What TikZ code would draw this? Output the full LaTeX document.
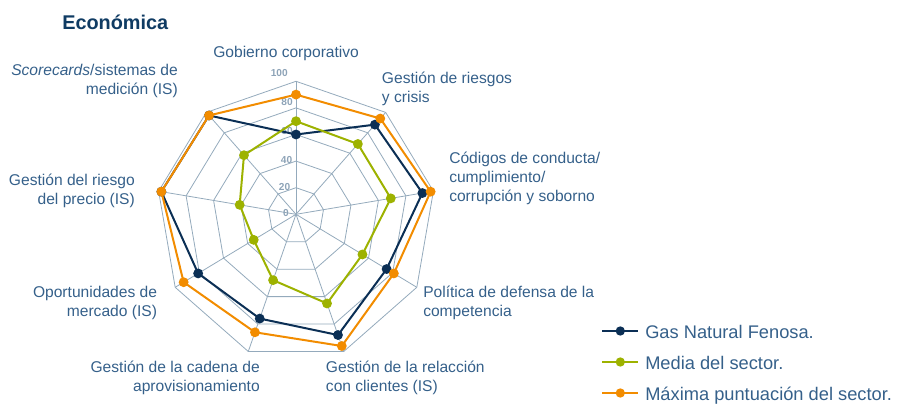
\documentclass[tikz,border=0pt]{standalone}
\usepackage{fontspec}
\setmainfont{Liberation Sans}
\usetikzlibrary{calc}
\definecolor{gnf}{HTML}{0B2F55}
\definecolor{media}{HTML}{9DB200}
\definecolor{maxima}{HTML}{F28C00}
\definecolor{rejilla}{HTML}{94AABC}
\definecolor{texto}{HTML}{35608A}
\definecolor{titulo}{HTML}{0F3B63}
\definecolor{cifras}{HTML}{8DA3B7}
\tikzstyle{eje}=[font=\fontsize{11.7}{14.3}\selectfont, text=texto, inner sep=0pt]
\tikzstyle{marca}=[font=\fontsize{7.6}{9}\selectfont\bfseries, text=cifras, inner sep=0pt, anchor=base east]
\tikzstyle{malla}=[draw=rejilla, line width=0.6pt]
\tikzstyle{serie}=[line width=1.5pt, line join=round]
\tikzstyle{punto}=[radius=3.7pt]
\tikzstyle{leyenda}=[font=\fontsize{13.7}{16}\selectfont, text=texto, inner sep=0pt, anchor=base west]

\begin{document}
\begin{tikzpicture}[x=0.75pt,y=0.75pt,
  declare function={rx(\a,\v)=296+1.395*\v*cos(\a);
                    ry(\a,\v)=189.7+(sin(\a)>0?1.33:1.46)*\v*sin(\a);}]
      \useasboundingbox (0,0) rectangle (907,404);
      \node [font=\fontsize{14.9}{17}\selectfont\bfseries, text=titulo, inner sep=0pt, anchor=base west] (titulo) at (62,374) {Económica};
      % rejilla
      \coordinate (centro) at (296,189.7);
      \foreach \i in {1,...,9}
        \coordinate (e\i) at ({rx(130-40*\i,100)},{ry(130-40*\i,100)});
      \foreach \r in {20,40,...,100}
        \draw [malla] ({rx(90,\r)},{ry(90,\r)}) \foreach \i in {2,...,9} { -- ({rx(130-40*\i,\r)},{ry(130-40*\i,\r)}) } -- cycle;
      \foreach \i in {1,...,9}
        \draw [malla] (centro) -- (e\i);
      \node [marca] (t100) at (288,327.3) {100};
      \node [marca] (t80) at (293,298.3) {80};
      \node [marca] (t60) at (293,269.5) {60};
      \node [marca] (t40) at (292.5,240.7) {40};
      \node [marca] (t20) at (290.5,214) {20};
      \node [marca] (t0) at (289,187.3) {0};
      % series
      \foreach \v [count=\i] in {60,88,92,75,88,76,81,98,97}
        \coordinate (gnf\i) at ({rx(130-40*\i,\v)},{ry(130-40*\i,\v)});
      \foreach \v [count=\i] in {70,69,69,55,65,48,35,41,58}
        \coordinate (med\i) at ({rx(130-40*\i,\v)},{ry(130-40*\i,\v)});
      \foreach \v [count=\i] in {90,94,98,81,96,86,93,98,97}
        \coordinate (max\i) at ({rx(130-40*\i,\v)},{ry(130-40*\i,\v)});
      \foreach \s/\c in {gnf/gnf, med/media, max/maxima} {
        \draw [serie, \c] (\s1) \foreach \i in {2,...,9} { -- (\s\i) } -- cycle;
        \foreach \i in {1,...,9}
          \fill [\c] (\s\i) circle [punto];
      }
      % etiquetas de los ejes
      \node [eje, anchor=base west] (gob) at (213,346) {Gobierno corporativo};
      \node [eje, anchor=base west, align=left] (rie) at (381.7,301.3) {Gestión de riesgos\\y crisis};
      \node [eje, anchor=base west, align=left] (cod) at (449,202.3) {Códigos de conducta/\\cumplimiento/\\corrupción y soborno};
      \node [eje, anchor=base west, align=left] (pol) at (423,87.3) {Política de defensa de la\\competencia};
      \node [eje, anchor=base west, align=left] (cli) at (325.7,12.3) {Gestión de la relacción\\con clientes (IS)};
      \node [eje, anchor=base east, align=right] (cad) at (260,12.3) {Gestión de la cadena de\\aprovisionamiento};
      \node [eje, anchor=base east, align=right] (opo) at (157.3,87.3) {Oportunidades de\\mercado (IS)};
      \node [eje, anchor=base east, align=right] (pre) at (135,199.7) {Gestión del riesgo\\del precio (IS)};
      \node [eje, anchor=base east, align=right] (sco) at (178,309.7) {\textit{Scorecards}/sistemas de\\medición (IS)};
      % leyenda
      \foreach \y/\c/\t [count=\i] in {73/gnf/Gas Natural Fenosa., 42/media/Media del sector., 11/maxima/Máxima puntuación del sector.} {
        \coordinate (la\i) at (602.3,\y);
        \coordinate (lb\i) at (638.3,\y);
        \draw [serie, \c] (la\i) -- (lb\i);
        \fill [\c] ($(la\i)!0.5!(lb\i)$) circle [radius=3.5pt];
        \node [leyenda] (ley\i) at ($(lb\i)+(6.7,-7.4)$) {\t};
      }
  \end{tikzpicture}
\end{document}
